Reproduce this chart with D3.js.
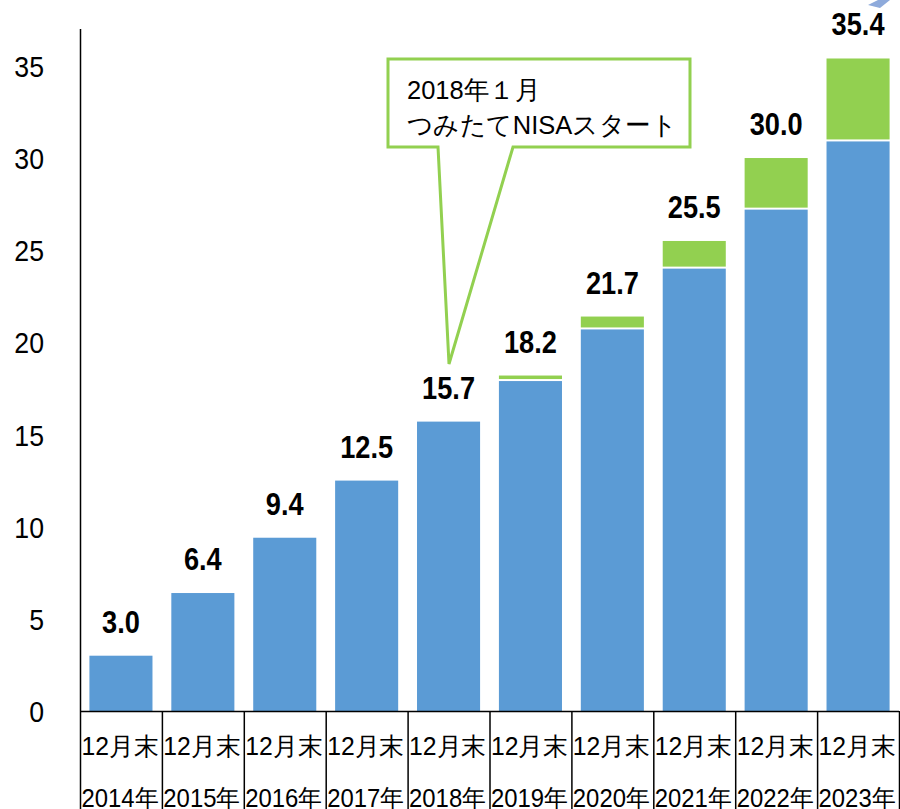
<!DOCTYPE html>
<html>
<head>
<meta charset="utf-8">
<script src="https://cdn.jsdelivr.net/npm/d3@7"></script>
<style>
  body { margin: 0; background: #fff; }
  svg text { font-family: "Liberation Sans", Arial, sans-serif; }
</style>
</head>
<body>
<div id="chart"></div>
<script>
// データ
let years = ['2014年', '2015年', '2016年', '2017年', '2018年', '2019年', '2020年', '2021年', '2022年', '2023年'];
let blue_values = [3.0, 6.4, 9.4, 12.5, 15.7, 17.9, 20.7, 24.0, 27.2, 30.9];
let green_values = [0, 0, 0, 0, 0, 0.3, 0.7, 1.5, 2.8, 4.5];
let total_labels = ['3.0', '6.4', '9.4', '12.5', '15.7', '18.2', '21.7', '25.5', '30.0', '35.4'];
let y_ticks = [0, 5, 10, 15, 20, 25, 30, 35];
let callout_lines = ['2018年１月', 'つみたてNISAスタート'];

let width = 900;
let height = 809;

let svg = d3.select('#chart')
    .append('svg')
    .attr('width', width)
    .attr('height', height);

let x_scale = d3.scaleBand()
    .domain(years)
    .range([80, 899])
    .paddingInner(0.23)
    .paddingOuter(0.115);

let y_scale = d3.scaleLinear()
    .domain([0, 37])
    .range([711, 29]);

let blue = '#5b9bd5';
let green = '#92d050';

// 棒グラフ（青）
svg.append('g').selectAll('rect')
    .data(years)
    .enter()
    .append('rect')
    .attr('x', d => x_scale(d))
    .attr('y', (d, i) => y_scale(blue_values[i]))
    .attr('width', x_scale.bandwidth())
    .attr('height', (d, i) => y_scale(0) - y_scale(blue_values[i]))
    .attr('fill', blue);

// 棒グラフ（緑）
svg.append('g').selectAll('rect')
    .data(years.filter((d, i) => green_values[i] > 0))
    .enter()
    .append('rect')
    .attr('x', d => x_scale(d))
    .attr('y', d => {
        let i = years.indexOf(d);
        return y_scale(blue_values[i] + green_values[i]);
    })
    .attr('width', x_scale.bandwidth())
    .attr('height', d => {
        let i = years.indexOf(d);
        return y_scale(blue_values[i]) - y_scale(blue_values[i] + green_values[i]) - 2;
    })
    .attr('fill', green);

// 数値ラベル
svg.append('g').selectAll('text')
    .data(years)
    .enter()
    .append('text')
    .attr('transform', (d, i) => 'translate(' + (x_scale(d) + x_scale.bandwidth() / 2) + ',' +
        (y_scale(blue_values[i] + green_values[i]) - 23) + ') scale(0.85,1)')
    .attr('text-anchor', 'middle')
    .attr('font-size', 32)
    .attr('font-weight', 'bold')
    .attr('fill', '#000')
    .text((d, i) => total_labels[i]);

// y軸
let y_axis = d3.axisLeft(y_scale)
    .tickValues(y_ticks)
    .tickSize(0)
    .tickPadding(0);
let y_g = svg.append('g')
    .attr('transform', 'translate(80,0)')
    .call(y_axis);
y_g.select('.domain')
    .attr('d', 'M0.5,' + y_scale(37) + 'V' + y_scale(0))
    .attr('stroke', '#000')
    .attr('stroke-width', 1.5);
y_g.selectAll('.tick text')
    .attr('x', 0)
    .attr('dy', 0)
    .attr('transform', 'translate(-36,10.5) scale(0.92,1)')
    .attr('font-size', 29)
    .attr('font-family', '"Liberation Sans", Arial, sans-serif')
    .attr('fill', '#000');

// x軸
let step = x_scale.step();
let x_g = svg.append('g');
x_g.append('line')
    .attr('x1', 80).attr('x2', 899)
    .attr('y1', y_scale(0) + 0.5).attr('y2', y_scale(0) + 0.5)
    .attr('stroke', '#000').attr('stroke-width', 1.5);
x_g.selectAll('line.div')
    .data(d3.range(years.length + 1))
    .enter()
    .append('line')
    .attr('class', 'div')
    .attr('x1', i => 80.5 + i * step).attr('x2', i => 80.5 + i * step)
    .attr('y1', y_scale(0)).attr('y2', height)
    .attr('stroke', '#000').attr('stroke-width', 1.5);
x_g.selectAll('text.m')
    .data(years)
    .enter()
    .append('text')
    .attr('class', 'm')
    .attr('x', d => x_scale(d) + x_scale.bandwidth() / 2 - 1)
    .attr('y', 755)
    .attr('text-anchor', 'middle')
    .attr('font-size', 25)
    .attr('font-family', '"Noto Sans CJK JP", sans-serif')
    .attr('textLength', 77)
    .attr('lengthAdjust', 'spacingAndGlyphs')
    .text('12月末');
x_g.selectAll('text.y')
    .data(years)
    .enter()
    .append('text')
    .attr('class', 'y')
    .attr('x', d => x_scale(d) + x_scale.bandwidth() / 2 - 1)
    .attr('y', 807)
    .attr('text-anchor', 'middle')
    .attr('font-size', 25)
    .attr('font-family', '"Noto Sans CJK JP", sans-serif')
    .attr('textLength', 77)
    .attr('lengthAdjust', 'spacingAndGlyphs')
    .text(d => d);

// 吹き出し
let callout = svg.append('g');
callout.append('path')
    .attr('d', 'M388,59 H690 V147 H513 L449,364 L438,147 H388 Z')
    .attr('fill', '#fff')
    .attr('stroke', green)
    .attr('stroke-width', 3)
    .attr('stroke-linejoin', 'miter');
callout.selectAll('text')
    .data(callout_lines)
    .enter()
    .append('text')
    .attr('x', 407)
    .attr('y', (d, i) => 99 + i * 35)
    .attr('font-size', 26)
    .attr('font-family', '"Noto Sans CJK JP", sans-serif')
    .attr('textLength', (d, i) => i === 0 ? 133 : 270)
    .attr('lengthAdjust', 'spacingAndGlyphs')
    .attr('fill', '#000')
    .text(d => d);

// 右上の矢印（切れている部分）
svg.append('path')
    .attr('d', 'M868,5 L878,0 L890,0 L880,8 Z')
    .attr('fill', '#8eaadb');
</script>
</body>
</html>
